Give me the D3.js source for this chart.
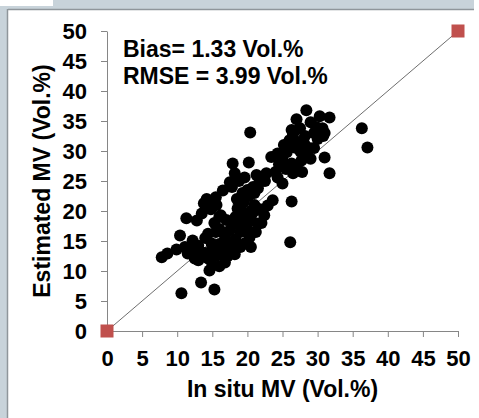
<!DOCTYPE html>
<html>
<head>
<meta charset="utf-8">
<script src="https://cdn.jsdelivr.net/npm/d3@7/dist/d3.min.js"></script>
<style>
  html, body { margin: 0; padding: 0; background: #fff; }
  svg { display: block; }
  text { font-family: "Liberation Sans", Arial, sans-serif; font-weight: bold; }
</style>
</head>
<body>
<svg id="chart" width="479" height="418"></svg>
<script>
// ---- data ----
const inSitu = [
  7.8, 8.6, 9.9, 10.4, 11.1, 11.5, 12.2, 12.5, 13.5, 14.6, 14.4, 15.6, 16.8, 11.3, 12.8, 13.5, 14.4, 14.9, 13.4, 10.6,
  15.3, 12.0, 13.0, 14.0, 15.0, 16.0, 15.5, 16.5, 17.2, 13.8, 14.2, 15.5, 16.5, 17.5, 14.8, 15.3, 16.2, 16.0, 16.8, 17.3,
  18.0, 18.3, 19.6, 20.3, 19.0, 18.6, 18.6, 17.0, 18.3, 19.2, 20.6, 21.5, 20.0, 22.4, 22.9, 21.0, 23.6, 21.0, 20.2, 19.3,
  18.5, 17.8, 18.8, 19.6, 20.8, 21.3, 22.7, 18.2, 17.9, 20.2, 20.4, 21.7, 20.5, 19.5, 21.8, 22.5, 24.3, 25.0, 26.5, 26.3,
  26.1, 23.4, 24.3, 25.6, 26.7, 28.1, 29.0, 27.7, 26.3, 25.5, 24.5, 27.0, 28.5, 29.5, 30.8, 31.0, 30.7, 29.5, 28.2, 27.5,
  26.3, 27.0, 28.4, 30.3, 31.7, 29.0, 30.0, 28.8, 31.0, 31.7, 36.3, 37.1, 27.8, 25.0, 27.2, 26.0, 24.0, 19.8, 20.8, 21.2,
  18.0, 17.5, 19.4, 20.0, 18.9, 15.6, 22.0, 21.5, 19.0, 18.2, 20.5, 16.0, 15.0, 13.0, 14.0, 16.0, 15.0, 27.5, 29.8, 26.5,
  25.2
];
const estimated = [
  12.3, 12.9, 13.6, 15.9, 14.0, 12.9, 15.1, 12.1, 13.1, 10.1, 12.1, 12.6, 11.4, 18.8, 18.4, 19.6, 16.2, 14.6, 8.1, 6.3,
  6.9, 13.5, 14.2, 13.0, 13.8, 14.5, 16.5, 13.2, 12.5, 21.3, 22.0, 22.3, 23.4, 24.8, 20.3, 18.0, 19.3, 17.0, 15.8, 14.4,
  13.6, 15.3, 14.6, 15.6, 16.5, 17.8, 20.4, 18.5, 19.0, 20.0, 18.4, 17.9, 17.0, 19.3, 20.9, 23.0, 21.8, 21.0, 22.5, 23.0,
  22.0, 24.0, 25.0, 25.6, 24.0, 26.0, 26.3, 26.3, 27.9, 28.1, 33.1, 24.8, 20.0, 21.5, 20.3, 25.0, 25.6, 24.6, 26.3, 21.6,
  14.8, 29.0, 29.6, 29.8, 30.6, 31.2, 28.7, 28.4, 27.9, 27.0, 27.8, 27.2, 29.8, 30.5, 32.5, 33.0, 33.8, 33.0, 32.5, 33.8,
  33.5, 35.3, 36.8, 35.8, 35.6, 34.8, 32.0, 30.5, 28.9, 26.3, 33.8, 30.6, 26.5, 28.5, 31.5, 31.8, 26.5, 19.0, 19.8, 16.5,
  18.0, 16.8, 17.8, 23.5, 21.0, 21.0, 18.0, 23.8, 14.0, 12.8, 14.0, 10.8, 11.0, 11.8, 15.5, 19.0, 20.8, 30.0, 34.0, 32.8,
  31.0
];
const refX = [0, 50];
const refY = [0, 50];
const tickValues = [0, 5, 10, 15, 20, 25, 30, 35, 40, 45, 50];
const statLabels = ["Bias= 1.33 Vol.%", "RMSE = 3.99 Vol.%"];
const xTitle = "In situ MV (Vol.%)";
const yTitle = "Estimated MV (Vol.%)";

// ---- drawing ----
const svg = d3.select("#chart");

// slide-like frame background
svg.append("rect").attr("width", 479).attr("height", 418).attr("fill", "#fff");
svg.append("path")
  .attr("d", "M0,6 H53 V0 H474 V9 H8 V418 H0 Z")
  .attr("fill", "#c8d3da");
svg.append("line").attr("x1", 8).attr("x2", 474).attr("y1", 9.5).attr("y2", 9.5)
  .attr("stroke", "#8f969b").attr("stroke-width", 1.5);
svg.append("line").attr("x1", 7.5).attr("x2", 7.5).attr("y1", 9).attr("y2", 418)
  .attr("stroke", "#8f969b").attr("stroke-width", 1.5);

const x = d3.scaleLinear().domain([0, 50]).range([107, 458]);
const y = d3.scaleLinear().domain([0, 50]).range([331, 31]);

const axisColor = "#868686";

const gx = svg.append("g").attr("transform", `translate(0,${y(0)})`)
  .call(d3.axisBottom(x).tickValues(tickValues).tickSize(6).tickSizeOuter(0).tickPadding(13));
const gy = svg.append("g").attr("transform", `translate(${x(0)},0)`)
  .call(d3.axisLeft(y).tickValues(tickValues).tickSize(6).tickSizeOuter(0).tickPadding(14));

[gx, gy].forEach(g => {
  g.select(".domain").attr("stroke", axisColor);
  g.selectAll(".tick line").attr("stroke", axisColor);
  g.selectAll(".tick text")
    .attr("fill", "#000")
    .style("font-size", "22px")
    .style("font-weight", "bold")
    .style("font-family", "'Liberation Sans', Arial, sans-serif");
});

// 1:1 line
svg.append("line")
  .attr("x1", x(refX[0])).attr("y1", y(refY[0]))
  .attr("x2", x(refX[1])).attr("y2", y(refY[1]))
  .attr("stroke", "#6e6e6e").attr("stroke-width", 1);

// points
svg.append("g").selectAll("circle")
  .data(d3.range(inSitu.length))
  .join("circle")
  .attr("cx", i => x(inSitu[i]))
  .attr("cy", i => y(estimated[i]))
  .attr("r", 6)
  .attr("fill", "#000");

// reference squares
svg.append("g").selectAll("rect")
  .data(d3.range(refX.length))
  .join("rect")
  .attr("x", i => x(refX[i]) - 6.5)
  .attr("y", i => y(refY[i]) - 6.5)
  .attr("width", 13).attr("height", 13)
  .attr("fill", "#c0504d");

// stats
svg.append("g").selectAll("text")
  .data(statLabels)
  .join("text")
  .attr("x", 123)
  .attr("y", (d, i) => 57 + i * 26.5)
  .style("font-size", "23px")
  .attr("fill", "#000")
  .text(d => d);

// axis titles
svg.append("text")
  .attr("x", (x(0) + x(50)) / 2).attr("y", 397)
  .attr("text-anchor", "middle")
  .style("font-size", "23px")
  .text(xTitle);
svg.append("text")
  .attr("transform", `translate(50,${(y(0) + y(50)) / 2}) rotate(-90)`)
  .attr("text-anchor", "middle")
  .style("font-size", "23px")
  .text(yTitle);
</script>
</body>
</html>
